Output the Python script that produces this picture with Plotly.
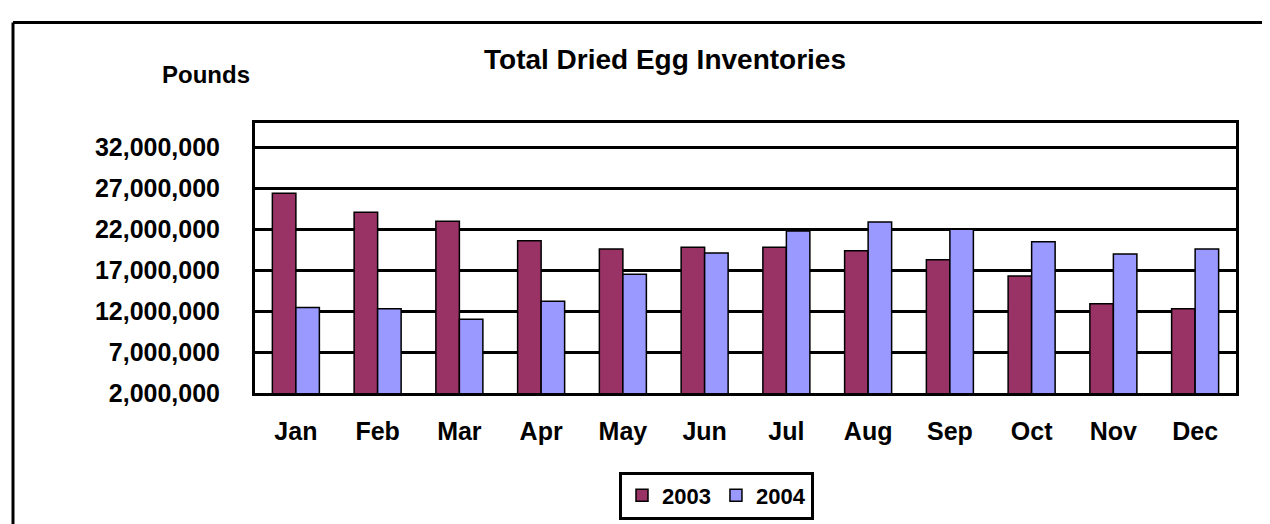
import plotly.graph_objects as go

months = ["Jan", "Feb", "Mar", "Apr", "May", "Jun", "Jul", "Aug", "Sep", "Oct", "Nov", "Dec"]
series_names = ["2003", "2004"]
values_2003 = [26.4e6, 24.1e6, 23.0e6, 20.6e6, 19.6e6, 19.8e6, 19.8e6, 19.4e6, 18.3e6, 16.3e6, 12.9e6, 12.3e6]
values_2004 = [12.45e6, 12.3e6, 11.0e6, 13.2e6, 16.5e6, 19.1e6, 21.8e6, 22.9e6, 22.0e6, 20.5e6, 19.0e6, 19.6e6]
tick_values = [2e6, 7e6, 12e6, 17e6, 22e6, 27e6, 32e6]
tick_labels = ["2,000,000", "7,000,000", "12,000,000", "17,000,000", "22,000,000", "27,000,000", "32,000,000"]

colors = ["#993366", "#9999FF"]
FONT = "Liberation Sans, Arial, sans-serif"

W, H = 1270, 524
L, R, T, B = 247, 1228, 115, 397
pw, ph = R - L, B - T


def px(x):
    return (x - L) / pw


def py(y):
    return (B - y) / ph


fig = go.Figure()
for name, vals, col in zip(series_names, [values_2003, values_2004], colors):
    fig.add_trace(go.Bar(
        x=months, y=vals, name=name,
        marker=dict(color=col, line=dict(color="black", width=1.5)),
    ))

fig.update_layout(
    width=W, height=H,
    margin=dict(l=L, r=W - R, t=T, b=H - B, pad=0),
    paper_bgcolor="white", plot_bgcolor="white",
    barmode="group", bargap=0.425, bargroupgap=0,
    font=dict(family=FONT, color="black"),
    showlegend=True,
    legend=dict(
        orientation="h", x=px(611), y=py(479), xanchor="left", yanchor="top",
        bordercolor="black", borderwidth=3, bgcolor="white",
        font=dict(family=FONT, size=22, color="black", weight="bold"),
        itemwidth=30, traceorder="normal",
    ),
    xaxis=dict(
        showgrid=False, showline=True, linecolor="black", linewidth=3, mirror=True,
        ticks="", tickfont=dict(family=FONT, size=25, color="black", weight="bold"),
        ticklabelstandoff=14,
    ),
    yaxis=dict(
        range=[2e6, 35e6], tickvals=tick_values, ticktext=tick_labels,
        showgrid=True, gridcolor="black", gridwidth=3,
        showline=True, linecolor="black", linewidth=3, mirror=True,
        zeroline=False, ticks="",
        tickfont=dict(family=FONT, size=25, color="black", weight="bold"),
        ticklabelstandoff=27,
    ),
    annotations=[
        dict(text="Total Dried Egg Inventories", x=px(656.5), y=py(49), xref="paper", yref="paper",
             xanchor="center", yanchor="middle", showarrow=False,
             font=dict(family=FONT, size=28, color="black", weight="bold")),
        dict(text="Pounds", x=px(197.5), y=py(64), xref="paper", yref="paper",
             xanchor="center", yanchor="middle", showarrow=False,
             font=dict(family=FONT, size=24, color="black", weight="bold")),
    ],
    shapes=[
        dict(type="line", xref="paper", yref="paper", x0=px(5), x1=px(5), y0=py(10), y1=py(540),
             line=dict(color="black", width=3)),
        dict(type="line", xref="paper", yref="paper", x0=px(5), x1=px(1290), y0=py(10), y1=py(10),
             line=dict(color="black", width=3)),
    ],
)

fig.write_html("out.html")
